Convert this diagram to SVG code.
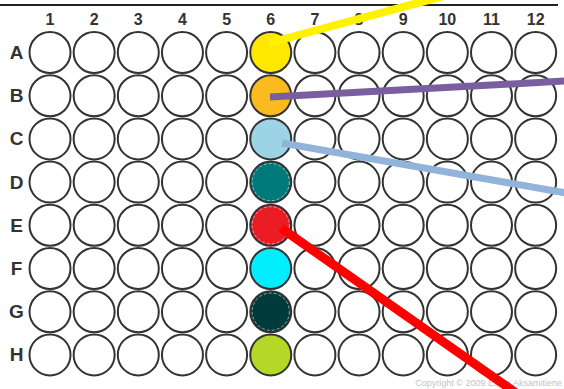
<svg xmlns="http://www.w3.org/2000/svg" width="564" height="389" viewBox="0 0 564 389">
  <style>
    .well { fill: #ffffff; stroke: #333333; stroke-width: 2; }
    .filled { stroke: #333333; stroke-width: 2; }
    .ring { fill: none; stroke: #d9e6e6; stroke-width: 0.8; stroke-dasharray: 3 2; opacity: 0.8; }
    .lbl { font-family: "Liberation Sans", Arial, sans-serif; font-weight: bold; fill: #333333; text-anchor: middle; }
    .col { font-size: 16px; }
    .row { font-size: 19px; }
    .link { fill: none; stroke-linecap: butt; }
    .copy { font-family: "Liberation Sans", Arial, sans-serif; font-size: 9px; fill: #c4c4c4; text-anchor: end; }
  </style>
  <defs>
    <circle id="w" r="20.5" class="well"/>
  </defs>
  <rect width="564" height="389" fill="#ffffff"/>
  <!-- plate top edge -->
  <line x1="0" y1="5" x2="558" y2="5" stroke="#222222" stroke-width="2"/>

  <!-- column numbers -->
  <g id="columns">
    <text class="lbl col" x="50" y="25">1</text>
    <text class="lbl col" x="94.15" y="25">2</text>
    <text class="lbl col" x="138.3" y="25">3</text>
    <text class="lbl col" x="182.45" y="25">4</text>
    <text class="lbl col" x="226.6" y="25">5</text>
    <text class="lbl col" x="270.75" y="25">6</text>
    <text class="lbl col" x="314.9" y="25">7</text>
    <text class="lbl col" x="359.05" y="25">8</text>
    <text class="lbl col" x="403.2" y="25">9</text>
    <text class="lbl col" x="447.35" y="25">10</text>
    <text class="lbl col" x="491.5" y="25">11</text>
    <text class="lbl col" x="535.65" y="25">12</text>
  </g>

  <!-- row letters -->
  <g id="rows">
    <text class="lbl row" x="16.5" y="59">A</text>
    <text class="lbl row" x="16.5" y="102.2">B</text>
    <text class="lbl row" x="16.5" y="145.4">C</text>
    <text class="lbl row" x="16.5" y="188.6">D</text>
    <text class="lbl row" x="16.5" y="231.8">E</text>
    <text class="lbl row" x="16.5" y="275">F</text>
    <text class="lbl row" x="16.5" y="318.2">G</text>
    <text class="lbl row" x="16.5" y="361.4">H</text>
  </g>

  <!-- empty wells: 8 rows x 12 columns (column 6 drawn separately) -->
  <g id="wells">
    <g id="row-A" transform="translate(0,52.5)">
      <use href="#w" x="50"/><use href="#w" x="94.15"/><use href="#w" x="138.3"/><use href="#w" x="182.45"/><use href="#w" x="226.6"/>
      <use href="#w" x="314.9"/><use href="#w" x="359.05"/><use href="#w" x="403.2"/><use href="#w" x="447.35"/><use href="#w" x="491.5"/><use href="#w" x="535.65"/>
    </g>
    <g id="row-B" transform="translate(0,95.7)">
      <use href="#w" x="50"/><use href="#w" x="94.15"/><use href="#w" x="138.3"/><use href="#w" x="182.45"/><use href="#w" x="226.6"/>
      <use href="#w" x="314.9"/><use href="#w" x="359.05"/><use href="#w" x="403.2"/><use href="#w" x="447.35"/><use href="#w" x="491.5"/><use href="#w" x="535.65"/>
    </g>
    <g id="row-C" transform="translate(0,138.9)">
      <use href="#w" x="50"/><use href="#w" x="94.15"/><use href="#w" x="138.3"/><use href="#w" x="182.45"/><use href="#w" x="226.6"/>
      <use href="#w" x="314.9"/><use href="#w" x="359.05"/><use href="#w" x="403.2"/><use href="#w" x="447.35"/><use href="#w" x="491.5"/><use href="#w" x="535.65"/>
    </g>
    <g id="row-D" transform="translate(0,182.1)">
      <use href="#w" x="50"/><use href="#w" x="94.15"/><use href="#w" x="138.3"/><use href="#w" x="182.45"/><use href="#w" x="226.6"/>
      <use href="#w" x="314.9"/><use href="#w" x="359.05"/><use href="#w" x="403.2"/><use href="#w" x="447.35"/><use href="#w" x="491.5"/><use href="#w" x="535.65"/>
    </g>
    <g id="row-E" transform="translate(0,225.3)">
      <use href="#w" x="50"/><use href="#w" x="94.15"/><use href="#w" x="138.3"/><use href="#w" x="182.45"/><use href="#w" x="226.6"/>
      <use href="#w" x="314.9"/><use href="#w" x="359.05"/><use href="#w" x="403.2"/><use href="#w" x="447.35"/><use href="#w" x="491.5"/><use href="#w" x="535.65"/>
    </g>
    <g id="row-F" transform="translate(0,268.5)">
      <use href="#w" x="50"/><use href="#w" x="94.15"/><use href="#w" x="138.3"/><use href="#w" x="182.45"/><use href="#w" x="226.6"/>
      <use href="#w" x="314.9"/><use href="#w" x="359.05"/><use href="#w" x="403.2"/><use href="#w" x="447.35"/><use href="#w" x="491.5"/><use href="#w" x="535.65"/>
    </g>
    <g id="row-G" transform="translate(0,311.7)">
      <use href="#w" x="50"/><use href="#w" x="94.15"/><use href="#w" x="138.3"/><use href="#w" x="182.45"/><use href="#w" x="226.6"/>
      <use href="#w" x="314.9"/><use href="#w" x="359.05"/><use href="#w" x="403.2"/><use href="#w" x="447.35"/><use href="#w" x="491.5"/><use href="#w" x="535.65"/>
    </g>
    <g id="row-H" transform="translate(0,354.9)">
      <use href="#w" x="50"/><use href="#w" x="94.15"/><use href="#w" x="138.3"/><use href="#w" x="182.45"/><use href="#w" x="226.6"/>
      <use href="#w" x="314.9"/><use href="#w" x="359.05"/><use href="#w" x="403.2"/><use href="#w" x="447.35"/><use href="#w" x="491.5"/><use href="#w" x="535.65"/>
    </g>
  </g>

  <!-- coloured wells in column 6 -->
  <g id="well-A6"><circle class="filled" cx="270.75" cy="52.5" r="20.5" fill="#FFE800"/></g>
  <g id="well-B6"><circle class="filled" cx="270.75" cy="95.7" r="20.5" fill="#FBBB1E"/></g>
  <g id="well-C6"><circle class="filled" cx="270.75" cy="138.9" r="20.5" fill="#9DD4E5"/></g>
  <g id="well-D6"><circle class="filled" cx="270.75" cy="182.1" r="20.5" fill="#00797B"/><circle class="ring" cx="270.75" cy="182.1" r="18.6"/></g>
  <g id="well-E6"><circle class="filled" cx="270.75" cy="225.3" r="20.5" fill="#EC1C24"/><circle class="ring" cx="270.75" cy="225.3" r="18.6" stroke="#f0b0b0"/></g>
  <g id="well-F6"><circle class="filled" cx="270.75" cy="268.5" r="20.5" fill="#00EEFF"/></g>
  <g id="well-G6"><circle class="filled" cx="270.75" cy="311.7" r="20.5" fill="#003B3C"/><circle class="ring" cx="270.75" cy="311.7" r="18.6"/></g>
  <g id="well-H6"><circle class="filled" cx="270.75" cy="354.9" r="20.5" fill="#B4D827"/></g>

  <text class="copy" x="562" y="386">Copyright © 2009 Elena Aksamitiene</text>

  <!-- leader lines -->
  <g id="connectors">
    <line class="link" x1="269" y1="43" x2="455" y2="-7" stroke="#FFF200" stroke-width="8"/>
    <line class="link" x1="270" y1="97" x2="566" y2="81" stroke="#7B5EA0" stroke-width="7"/>
    <line class="link" x1="282" y1="143" x2="566" y2="193" stroke="#93B4DA" stroke-width="7"/>
    <line class="link" x1="281" y1="228" x2="519" y2="395" stroke="#FF0000" stroke-width="9"/>
  </g>
</svg>
